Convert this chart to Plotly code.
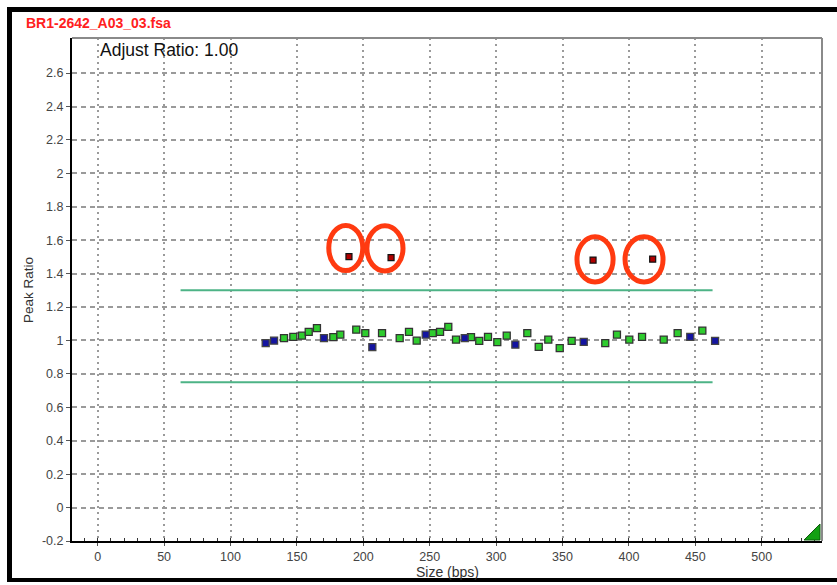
import plotly.graph_objects as go

# ---------------- data ----------------
green_x = [140.3, 147.3, 153.8, 158.9, 165.1, 177.4, 182.7, 194.7, 201.5, 214.1,
           227.4, 234.4, 240.2, 252.3, 257.8, 264.0, 269.8, 281.1, 287.3, 293.9,
           300.9, 308.0, 323.5, 332.1, 339.3, 347.9, 356.9, 382.2, 391.0, 400.3,
           409.9, 426.2, 436.7, 455.3]
green_y = [1.014, 1.022, 1.029, 1.051, 1.074, 1.020, 1.035, 1.065, 1.044, 1.044,
           1.014, 1.051, 0.999, 1.044, 1.051, 1.081, 1.005, 1.020, 0.998, 1.022,
           0.990, 1.029, 1.044, 0.962, 1.005, 0.954, 0.998, 0.984, 1.035, 1.005,
           1.022, 1.005, 1.044, 1.059]
blue_x = [126.5, 132.8, 170.4, 206.8, 247.0, 276.4, 314.5, 366.0, 446.2, 464.9]
blue_y = [0.984, 0.999, 1.014, 0.960, 1.035, 1.014, 0.975, 0.992, 1.022, 0.998]
out_x = [189.2, 220.9, 373.0, 417.9]
out_y = [1.502, 1.496, 1.481, 1.487]
upper_x = [62.4, 463.0]
upper_y = [1.30, 1.30]
lower_x = [62.4, 463.0]
lower_y = [0.75, 0.75]
# ellipse centres / half sizes (data units)
ell_cx = [186.8, 216.3, 374.5, 411.4]
ell_cy = [1.553, 1.551, 1.485, 1.485]
ell_rx = [12.8, 13.6, 13.6, 14.3]
ell_ry = [0.135, 0.135, 0.135, 0.135]
x_ticks = [0, 50, 100, 150, 200, 250, 300, 350, 400, 450, 500]
y_ticks = [-0.2, 0, 0.2, 0.4, 0.6, 0.8, 1, 1.2, 1.4, 1.6, 1.8, 2, 2.2, 2.4, 2.6]
y_tick_text = ["-0.2", "0", "0.2", "0.4", "0.6", "0.8", "1", "1.2", "1.4", "1.6",
               "1.8", "2", "2.2", "2.4", "2.6"]
title_text = "BR1-2642_A03_03.fsa"
ratio_text = "Adjust Ratio: 1.00"

# ---------------- layout geometry ----------------
W, H = 837, 585
L, R, T, B = 72, 822, 38, 541


def px(xp):
    return (xp - L) / (R - L)


def py(yp):
    return (B - yp) / (B - T)


FONT = "Liberation Sans, Arial, sans-serif"

fig = go.Figure()

line_col = "#4db386"
fig.add_trace(go.Scatter(x=upper_x, y=upper_y, mode="lines",
                         line=dict(color=line_col, width=2), hoverinfo="skip"))
fig.add_trace(go.Scatter(x=lower_x, y=lower_y, mode="lines",
                         line=dict(color=line_col, width=2), hoverinfo="skip"))
fig.add_trace(go.Scatter(x=green_x, y=green_y, mode="markers",
                         marker=dict(symbol="square", size=7, color="#2ecc2e",
                                     line=dict(color="#333333", width=1.3))))
fig.add_trace(go.Scatter(x=blue_x, y=blue_y, mode="markers",
                         marker=dict(symbol="square", size=7, color="#1414a0",
                                     line=dict(color="#444444", width=1.3))))
fig.add_trace(go.Scatter(x=out_x, y=out_y, mode="markers",
                         marker=dict(symbol="square", size=6, color="#b00000",
                                     line=dict(color="#111111", width=1.2))))

shapes = []
for cx, cy, rx, ry in zip(ell_cx, ell_cy, ell_rx, ell_ry):
    shapes.append(dict(type="circle", xref="x", yref="y",
                       x0=cx - rx, x1=cx + rx, y0=cy - ry, y1=cy + ry,
                       line=dict(color="#ff3a10", width=5)))
# top / right plot border (gray)
shapes.append(dict(type="line", xref="paper", yref="paper", x0=0, x1=1, y0=1, y1=1,
                   line=dict(color="#8a8a8a", width=2)))
shapes.append(dict(type="line", xref="paper", yref="paper", x0=1, x1=1, y0=0, y1=1,
                   line=dict(color="#8a8a8a", width=2)))
# outer black frame
shapes.append(dict(type="line", xref="paper", yref="paper", x0=px(7), x1=px(840),
                   y0=py(9.5), y1=py(9.5), line=dict(color="black", width=5)))
shapes.append(dict(type="line", xref="paper", yref="paper", x0=px(9.5), x1=px(9.5),
                   y0=py(7), y1=py(582), line=dict(color="black", width=5)))
shapes.append(dict(type="line", xref="paper", yref="paper", x0=px(7), x1=px(840),
                   y0=py(580), y1=py(580), line=dict(color="black", width=4)))
# green corner triangle
shapes.append(dict(type="path", xref="paper", yref="paper",
                   path="M %f %f L %f %f L %f %f Z" % (px(804), py(540), px(820), py(540),
                                                       px(820), py(524)),
                   fillcolor="#13a013", line=dict(color="#0b5a0b", width=1)))

annotations = [
    dict(text="<b>" + title_text + "</b>", xref="paper", yref="paper",
         x=px(24), y=py(23), xanchor="left", yanchor="middle", showarrow=False,
         font=dict(family=FONT, size=14, color="#ff2020")),
    dict(text=ratio_text, xref="paper", yref="paper",
         x=px(98), y=py(50), xanchor="left", yanchor="middle", showarrow=False,
         font=dict(family=FONT, size=17.5, color="#111111")),
    dict(text="Peak Ratio", xref="paper", yref="paper", textangle=-90,
         x=px(28), y=py(290), xanchor="center", yanchor="middle", showarrow=False,
         font=dict(family=FONT, size=13.5, color="#333333")),
    dict(text="Size (bps)", xref="paper", yref="paper",
         x=px(447), y=py(572), xanchor="center", yanchor="middle", showarrow=False,
         font=dict(family=FONT, size=14, color="#333333")),
]

fig.update_layout(
    width=W, height=H,
    margin=dict(l=L, r=W - R, t=T, b=H - B, pad=0),
    paper_bgcolor="white", plot_bgcolor="white",
    showlegend=False,
    shapes=shapes, annotations=annotations,
    font=dict(family=FONT, size=12, color="#444444"),
)
fig.update_xaxes(range=[-19.35, 545.4], tickvals=x_ticks, showgrid=True,
                 gridcolor="#9a9a9a", gridwidth=1.5, griddash="2px,4px",
                 showline=True, linecolor="black", linewidth=2,
                 ticks="outside", ticklen=3, tickcolor="#555555",
                 minor=dict(ticks="inside", ticklen=3, dtick=10, tickcolor="#333333",
                            showgrid=False),
                 zeroline=False, tickfont=dict(size=12.5, color="#444444"))
fig.update_yaxes(range=[-0.2, 2.81], tickvals=y_ticks, ticktext=y_tick_text,
                 showgrid=True, gridcolor="#9a9a9a", gridwidth=1.5, griddash="5px,4px",
                 showline=True, linecolor="black", linewidth=2,
                 ticks="outside", ticklen=4, tickcolor="#555555",
                 zeroline=False, tickfont=dict(size=12.5, color="#444444"))

fig.write_html("out.html")
